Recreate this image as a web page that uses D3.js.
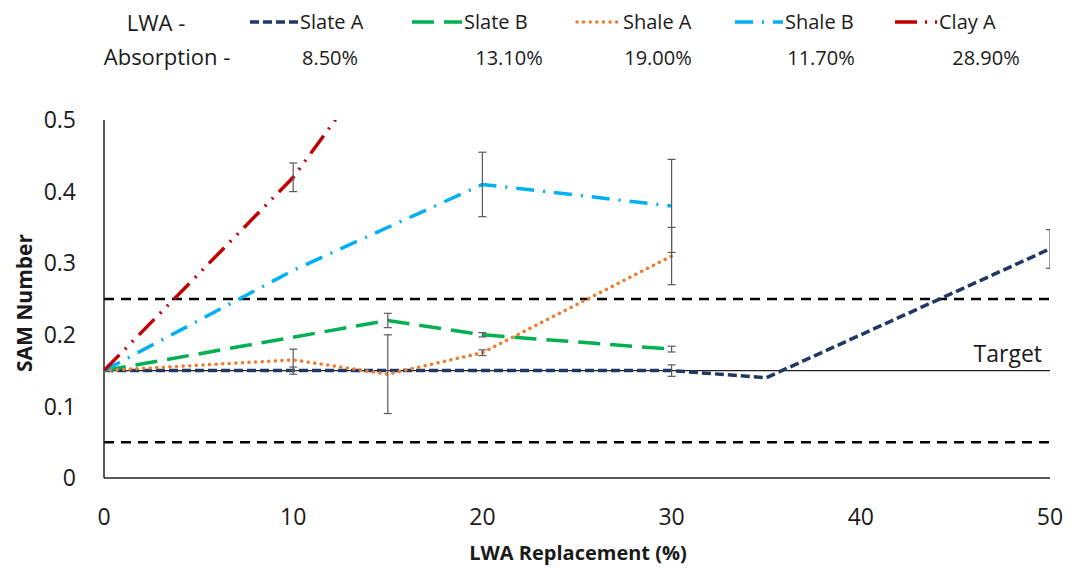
<!DOCTYPE html>
<html>
<head>
<meta charset="utf-8">
<script src="https://cdn.jsdelivr.net/npm/d3@7"></script>
<style>
  body { margin: 0; background: #fff; }
  text { font-family: "Open Sans", "Noto Sans", sans-serif; fill: #1a1a1a; }
</style>
</head>
<body>
<div id="chart"></div>
<script>
// data
let seriesNames = ["Slate A", "Slate B", "Shale A", "Shale B", "Clay A"];
let absorption = ["8.50%", "13.10%", "19.00%", "11.70%", "28.90%"];

let slateAX = [0, 10, 20, 30, 35, 50];
let slateAY = [0.15, 0.15, 0.15, 0.15, 0.14, 0.32];
let slateAErr = [0, 0.005, 0, 0.008, 0, 0.027];

let slateBX = [0, 15, 20, 30];
let slateBY = [0.15, 0.22, 0.20, 0.18];
let slateBErr = [0, 0.01, 0.003, 0.004];

let shaleAX = [0, 10, 15, 20, 30];
let shaleAY = [0.15, 0.165, 0.145, 0.175, 0.31];
let shaleAErr = [0, 0.015, 0.055, 0.004, 0.04];

let shaleBX = [0, 10, 20, 30];
let shaleBY = [0.15, 0.29, 0.41, 0.38];
let shaleBErr = [0, 0, 0.045, 0.065];

let clayAX = [0, 10, 15];
let clayAY = [0.15, 0.42, 0.60];
let clayAErr = [0, 0.02, 0];

let target = 0.15;
let limits = [0.25, 0.05];

let xTicks = [0, 10, 20, 30, 40, 50];
let yTicks = [0, 0.1, 0.2, 0.3, 0.4, 0.5];

// styles
let colors = ["#1F3864", "#00B050", "#ED7D31", "#00B0F0", "#C00000"];
let dashes = ["9,4", "22,10", "0.1,6.5", "18,9,2,9", "22,8,2,8,2,8"];
let widths = [3.5, 3.5, 3.5, 3.5, 3.5];
let caps = ["butt", "butt", "round", "butt", "butt"];

let series = [
  { x: slateAX, y: slateAY, e: slateAErr },
  { x: slateBX, y: slateBY, e: slateBErr },
  { x: shaleAX, y: shaleAY, e: shaleAErr },
  { x: shaleBX, y: shaleBY, e: shaleBErr },
  { x: clayAX, y: clayAY, e: clayAErr }
];

let svgWidth = 1071;
let svgHeight = 570;
let margin = { top: 120, right: 21, bottom: 92, left: 104 };
let width = svgWidth - margin.left - margin.right;
let height = svgHeight - margin.top - margin.bottom;

let svg = d3.select("#chart")
  .append("svg")
  .attr("width", svgWidth)
  .attr("height", svgHeight);

let chartGroup = svg.append("g")
  .attr("transform", `translate(${margin.left}, ${margin.top})`);

let xScale = d3.scaleLinear().domain([0, 50]).range([0, width]);
let yScale = d3.scaleLinear().domain([0, 0.5]).range([height, 0]);

chartGroup.append("clipPath")
  .attr("id", "plotClip")
  .append("rect")
  .attr("x", 0).attr("y", 0)
  .attr("width", width).attr("height", height);

// tick labels
chartGroup.selectAll(".ytick")
  .data(yTicks)
  .enter()
  .append("text")
  .attr("x", -28)
  .attr("y", d => yScale(d))
  .attr("dy", "0.36em")
  .attr("text-anchor", "end")
  .attr("font-size", "23px")
  .text(d => d3.format("")(d));

chartGroup.selectAll(".xtick")
  .data(xTicks)
  .enter()
  .append("text")
  .attr("x", d => xScale(d))
  .attr("y", height + 39)
  .attr("dy", "0.36em")
  .attr("text-anchor", "middle")
  .attr("font-size", "23px")
  .text(d => d);

// reference lines
chartGroup.selectAll(".limit")
  .data(limits)
  .enter()
  .append("line")
  .attr("x1", 0).attr("x2", width)
  .attr("y1", d => yScale(d)).attr("y2", d => yScale(d))
  .attr("stroke", "#000")
  .attr("stroke-width", 2.5)
  .attr("stroke-dasharray", "10,7");

chartGroup.append("line")
  .attr("x1", 0).attr("x2", width)
  .attr("y1", yScale(target)).attr("y2", yScale(target))
  .attr("stroke", "#222")
  .attr("stroke-width", 1.3);

chartGroup.append("text")
  .attr("x", width - 8)
  .attr("y", yScale(target) - 9)
  .attr("text-anchor", "end")
  .attr("font-size", "23px")
  .text("Target");

// axes lines
chartGroup.append("line")
  .attr("x1", 0).attr("x2", width)
  .attr("y1", height).attr("y2", height)
  .attr("stroke", "#222").attr("stroke-width", 1.5);

chartGroup.append("line")
  .attr("x1", 0).attr("x2", 0)
  .attr("y1", 0).attr("y2", height)
  .attr("stroke", "#222").attr("stroke-width", 1.5);

// series lines
let lineGen = d3.line()
  .x(d => xScale(d[0]))
  .y(d => yScale(d[1]));

let plot = chartGroup.append("g").attr("clip-path", "url(#plotClip)");

series.forEach(function(s, i) {
  let pts = s.x.map((v, j) => [v, s.y[j]]);
  plot.append("path")
    .datum(pts)
    .attr("d", lineGen)
    .attr("fill", "none")
    .attr("stroke", colors[i])
    .attr("stroke-width", widths[i])
    .attr("stroke-linecap", caps[i])
    .attr("stroke-dasharray", dashes[i]);
});

// error bars
series.forEach(function(s, i) {
  let errs = s.x.map((v, j) => ({ x: v, y: s.y[j], e: s.e[j] })).filter(d => d.e > 0);
  let g = plot.append("g")
    .attr("stroke", "#595959")
    .attr("stroke-width", 1.2);
  errs.forEach(function(d) {
    let cx = xScale(d.x);
    let top = yScale(d.y + d.e);
    let bot = yScale(d.y - d.e);
    g.append("line").attr("x1", cx).attr("x2", cx).attr("y1", top).attr("y2", bot);
    g.append("line").attr("x1", cx - 4).attr("x2", cx + 4).attr("y1", top).attr("y2", top);
    g.append("line").attr("x1", cx - 4).attr("x2", cx + 4).attr("y1", bot).attr("y2", bot);
  });
});

// axis titles
svg.append("text")
  .attr("x", margin.left + width / 2 + 1)
  .attr("y", 553)
  .attr("dy", "0.36em")
  .attr("text-anchor", "middle")
  .attr("font-size", "20px")
  .attr("font-weight", "bold")
  .text("LWA Replacement (%)");

svg.append("text")
  .attr("transform", `translate(24, ${margin.top + height / 2 + 4}) rotate(-90)`)
  .attr("dy", "0.36em")
  .attr("text-anchor", "middle")
  .attr("font-size", "21px")
  .attr("font-weight", "bold")
  .text("SAM Number");

// legend header
svg.append("text")
  .attr("x", 156).attr("y", 23)
  .attr("dy", "0.36em")
  .attr("text-anchor", "middle")
  .attr("font-size", "22px")
  .text("LWA -");

svg.append("text")
  .attr("x", 167).attr("y", 57)
  .attr("dy", "0.36em")
  .attr("text-anchor", "middle")
  .attr("font-size", "22px")
  .text("Absorption -");

let legendStart = [250, 412, 577, 735, 895];
let sampleLen = [48, 50, 44, 48, 42];
let absCenter = [330, 509, 658, 821, 986];

seriesNames.forEach(function(name, i) {
  svg.append("line")
    .attr("x1", legendStart[i]).attr("x2", legendStart[i] + sampleLen[i])
    .attr("y1", 22).attr("y2", 22)
    .attr("stroke", colors[i])
    .attr("stroke-width", widths[i])
    .attr("stroke-linecap", caps[i])
    .attr("stroke-dasharray", dashes[i]);

  svg.append("text")
    .attr("x", legendStart[i] + sampleLen[i] + 2)
    .attr("y", 22)
    .attr("dy", "0.36em")
    .attr("font-size", "20px")
    .text(name);

  svg.append("text")
    .attr("x", absCenter[i])
    .attr("y", 58)
    .attr("dy", "0.36em")
    .attr("text-anchor", "middle")
    .attr("font-size", "20px")
    .text(absorption[i]);
});
</script>
</body>
</html>
